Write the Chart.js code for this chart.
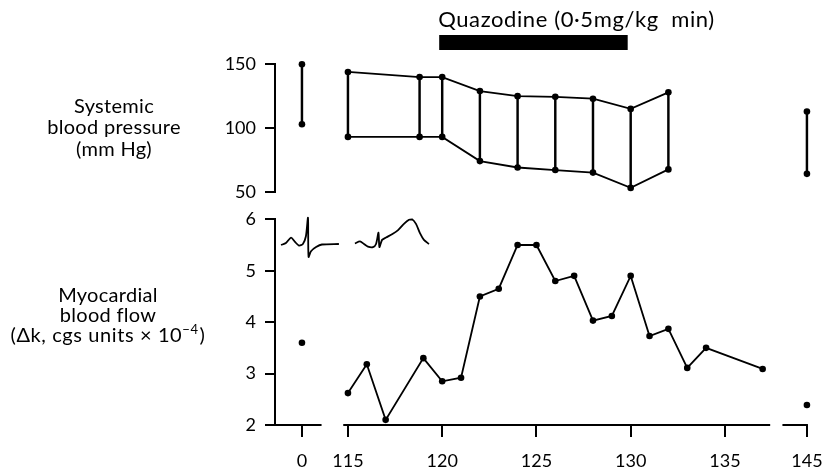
<!DOCTYPE html>
<html><head><meta charset="utf-8">
<script src="https://cdn.jsdelivr.net/npm/chart.js@4.4.1/dist/chart.umd.min.js"></script>
<style>
html,body{margin:0;padding:0;background:#fff;}
#wrap{position:relative;width:830px;height:472px;overflow:hidden;}
.box{position:absolute;left:0;width:830px;}
</style></head><body>
<div id="wrap">
  <div class="box" style="top:0;height:200px"><canvas id="top"></canvas></div>
  <div class="box" style="top:200px;height:272px"><canvas id="bot"></canvas></div>
</div>
<script>
// ---------------- data ----------------
const bpTime    = [0, 115, 118.8, 120, 122, 124, 126, 128, 130, 132, 145];
const systolic  = [150, 144, 140, 140, 129, 125, 124.5, 123, 115, 128, 113];
const diastolic = [103, 93, 93, 93, 74, 69, 67, 65, 53, 67.5, 64];

const flowTime = [0, 115, 116, 117, 119, 120, 121, 122, 123, 124, 125, 126, 127, 128, 129, 130, 131, 132, 133, 134, 137, 145];
const flow     = [3.6, 2.62, 3.18, 2.1, 3.3, 2.85, 2.92, 4.5, 4.65, 5.5, 5.5, 4.8, 4.9, 4.03, 4.12, 4.9, 3.73, 3.87, 3.11, 3.5, 3.09, 2.39];

const xTicks  = [0, 115, 120, 125, 130, 135, 145];
const bpTicks = [50, 100, 150];
const flowTicks = [2, 3, 4, 5, 6];

const drugPeriod = [120, 130];
const drugLabel  = 'Quazodine (0·5mg/kg  min)';

// ECG inset traces (axis position, flow units)
const ecg1X = [111.45, 111.71, 111.98, 112.19, 112.40, 112.61, 112.77, 112.88, 112.91, 113.04, 113.31, 113.62, 114.52];
const ecg1Y = [5.50, 5.54, 5.645, 5.56, 5.49, 5.52, 5.67, 6.03, 5.27, 5.38, 5.46, 5.51, 5.52];
const ecg2X = [115.37, 115.64, 115.85, 116.06, 116.33, 116.49, 116.62, 116.67, 116.81, 117.02, 117.34, 117.66, 117.97, 118.24, 118.40, 118.61, 118.82, 119.03, 119.30];
const ecg2Y = [5.53, 5.57, 5.52, 5.47, 5.46, 5.52, 5.74, 5.46, 5.60, 5.645, 5.71, 5.79, 5.91, 5.99, 6.00, 5.91, 5.73, 5.60, 5.52];

// broken time axis: control (0) and recovery (145) placed next to the main 115-137 segment
const preTime = 0, prePos = 112.56, postTime = 145, postPos = 139.35;
const X_MIN = 111.13, X_MAX = 139.9;
const axisSegments = [[X_MIN, 113.6], [114.75, 137.4], [138.05, postPos]];

const leftTop = ['Systemic', 'blood pressure', '(mm Hg)'];
const leftBot = ['Myocardial', 'blood flow'];

// ---------------- helpers ----------------
const FONT = 'Lato, "Open Sans", sans-serif';
const BLACK = '#000';
function pos(t){ return t === preTime ? prePos : (t === postTime ? postPos : t); }
function inMain(t){ return t !== preTime && t !== postTime; }
function xScaleOpts(display){
  return {
    type: 'linear', min: X_MIN, max: X_MAX, offset: false, display: display,
    afterBuildTicks: s => { s.ticks = xTicks.map(t => ({value: pos(t)})); },
    afterFit: s => { s.paddingLeft = 0; s.paddingRight = 0; if (display) s.height = 47; },
    ticks: { callback: (v, i) => String(xTicks[i]), color: BLACK, font: {family: FONT, size: 18}, padding: 13, maxRotation: 0, autoSkip: false },
    grid: { drawOnChartArea: false, drawTicks: true, tickLength: 12, color: BLACK, lineWidth: 2 },
    border: { display: false }
  };
}
function yScaleOpts(min, max, ticks){
  return {
    type: 'linear', min: min, max: max,
    afterBuildTicks: s => { s.ticks = ticks.map(v => ({value: v})); },
    afterFit: s => { s.width = 275; s.paddingTop = 0; s.paddingBottom = 0; },
    ticks: { color: BLACK, font: {family: FONT, size: 18}, padding: 9 },
    grid: { drawOnChartArea: false, drawTicks: true, tickLength: 10, color: BLACK, lineWidth: 2 },
    border: { display: true, color: BLACK, width: 2 }
  };
}
function lineDS(times, vals){
  return {
    type: 'line', data: times.map((t, i) => ({x: pos(t), y: vals[i]})),
    borderColor: BLACK, borderWidth: 1.8, pointRadius: 3.3, pointBackgroundColor: BLACK,
    pointBorderWidth: 0, clip: false, order: 1,
    segment: { borderColor: c => (inMain(times[c.p0DataIndex]) && inMain(times[c.p1DataIndex])) ? BLACK : 'rgba(0,0,0,0)' }
  };
}
function traceDS(xs, ys){
  return { type: 'line', data: xs.map((x, i) => ({x: x, y: ys[i]})), borderColor: BLACK, borderWidth: 1.8,
           pointRadius: 0, tension: 0.25, clip: false, order: 2 };
}
const common = { responsive: true, maintainAspectRatio: false, animation: false, devicePixelRatio: 1,
                 plugins: { legend: {display: false}, tooltip: {enabled: false} } };

// ---------------- top chart: blood pressure ----------------
const topPlugin = {
  id: 'topDeco',
  afterDraw(chart){
    const ctx = chart.ctx, xs = chart.scales.x, ys = chart.scales.y;
    ctx.save();
    const x0 = xs.getPixelForValue(drugPeriod[0]), x1 = xs.getPixelForValue(drugPeriod[1]);
    ctx.fillStyle = BLACK;
    ctx.fillRect(x0 - 3, 35, x1 - x0, 15);
    ctx.font = '22px ' + FONT;
    ctx.letterSpacing = '0.6px';
    ctx.textAlign = 'left'; ctx.textBaseline = 'alphabetic';
    ctx.fillText(drugLabel, x0 - 4, 27);
    ctx.letterSpacing = '0.3px';
    ctx.font = '20px ' + FONT;
    ctx.textAlign = 'center'; ctx.textBaseline = 'middle';
    const yc = ys.getPixelForValue(100);
    leftTop.forEach((s, i) => ctx.fillText(s, 114, yc + (i - 1) * 21.5));
    ctx.restore();
  }
};
new Chart(document.getElementById('top'), {
  type: 'line',
  data: { datasets: [
    { type: 'bar', data: bpTime.map((t, i) => ({x: pos(t), y: [diastolic[i], systolic[i]]})),
      backgroundColor: BLACK, borderWidth: 0, barThickness: 1.8, grouped: false, order: 3 },
    lineDS(bpTime, systolic),
    lineDS(bpTime, diastolic)
  ]},
  options: Object.assign({}, common, {
    layout: { padding: { top: 64.3, bottom: 8.3, left: 0, right: 12.7 } },
    scales: { x: xScaleOpts(false), y: yScaleOpts(50, 150, bpTicks) }
  }),
  plugins: [topPlugin]
});

// ---------------- bottom chart: myocardial blood flow ----------------
const botPlugin = {
  id: 'botDeco',
  afterDraw(chart){
    const ctx = chart.ctx, xs = chart.scales.x, ys = chart.scales.y, ca = chart.chartArea;
    ctx.save();
    ctx.strokeStyle = BLACK; ctx.lineWidth = 2; ctx.lineCap = 'butt';
    axisSegments.forEach(([a, b]) => {
      ctx.beginPath();
      ctx.moveTo(xs.getPixelForValue(a) - (a === X_MIN ? 1 : 0), ca.bottom);
      ctx.lineTo(xs.getPixelForValue(b) + (b === postPos ? 1 : 0), ca.bottom);
      ctx.stroke();
    });
    ctx.fillStyle = BLACK;
    ctx.letterSpacing = '0.3px';
    ctx.font = '20px ' + FONT;
    ctx.textAlign = 'center'; ctx.textBaseline = 'middle';
    const yc = ys.getPixelForValue(4) - 7;
    const cx = 108;
    leftBot.forEach((s, i) => ctx.fillText(s, cx, yc + (i - 1) * 20));
    // third line with superscript exponent
    const y3 = yc + 20;
    const a = '(Δk, cgs units × 10', sup = '−4', c = ')';
    ctx.letterSpacing = '0.6px';
    ctx.font = '20px ' + FONT; const wa = ctx.measureText(a).width, wc = ctx.measureText(c).width;
    ctx.font = '13px ' + FONT; const ws = ctx.measureText(sup).width;
    let x = cx - (wa + ws + 1 + wc) / 2;
    ctx.textAlign = 'left';
    ctx.font = '20px ' + FONT; ctx.fillText(a, x, y3); x += wa;
    ctx.font = '13px ' + FONT; ctx.fillText(sup, x, y3 - 5); x += ws + 1;
    ctx.font = '20px ' + FONT; ctx.fillText(c, x, y3);
    ctx.restore();
  }
};
new Chart(document.getElementById('bot'), {
  type: 'line',
  data: { datasets: [
    lineDS(flowTime, flow),
    traceDS(ecg1X, ecg1Y),
    traceDS(ecg2X, ecg2Y)
  ]},
  options: Object.assign({}, common, {
    layout: { padding: { top: 19.3, bottom: 0, left: 0, right: 12.7 } },
    scales: { x: xScaleOpts(true), y: yScaleOpts(2, 6, flowTicks) }
  }),
  plugins: [botPlugin]
});
</script>
</body></html>
